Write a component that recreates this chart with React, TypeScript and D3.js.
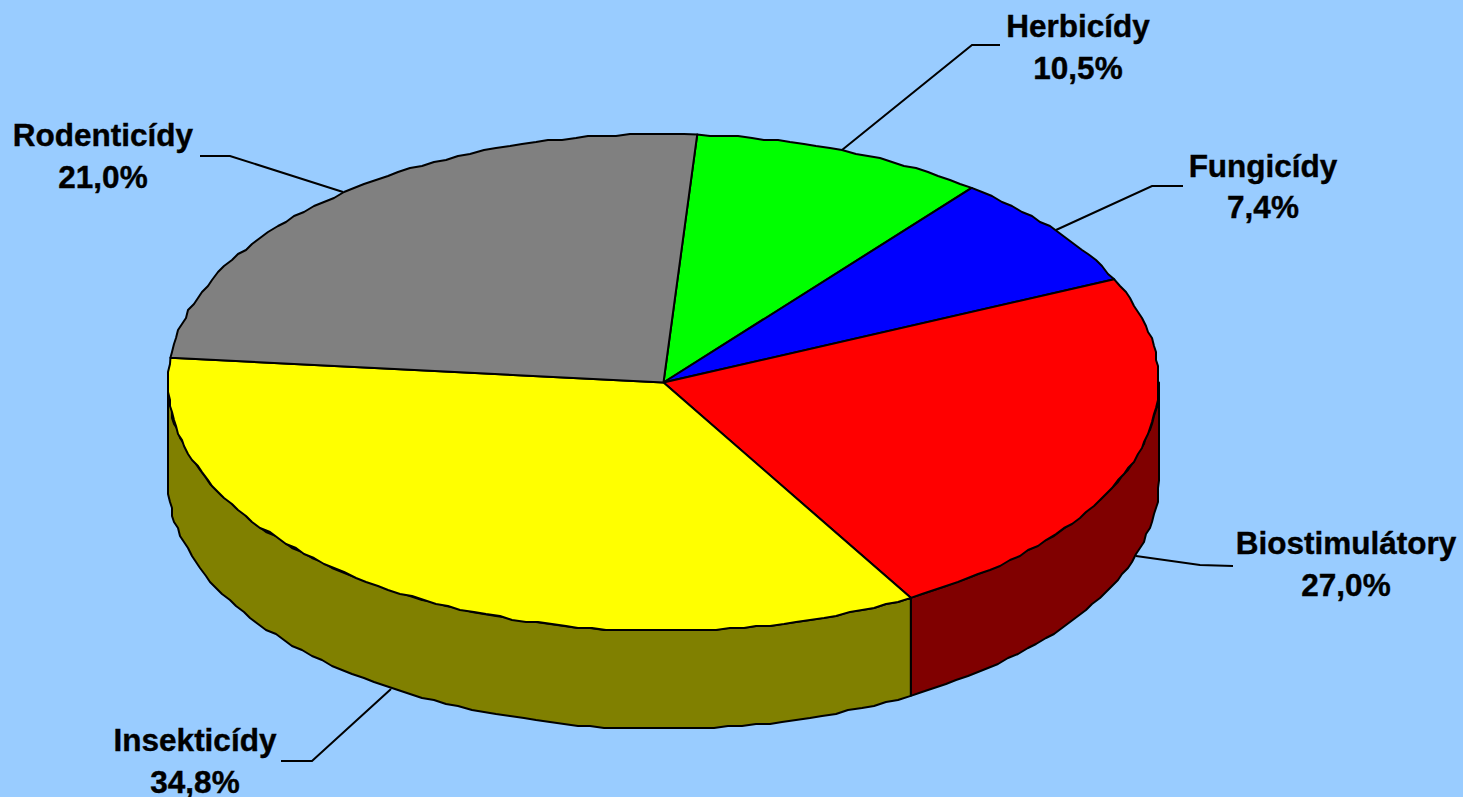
import React from "react";
import * as d3 from "d3";

const categories = ["Herbicídy", "Fungicídy", "Biostimulátory", "Insekticídy", "Rodenticídy"];
const valueLabels = ["10,5%", "7,4%", "27,0%", "34,8%", "21,0%"];
// Share of the circle each slice occupies in the picture (read from the boundaries)
const drawnShares = [9.6, 7.5, 23.5, 34.9, 24.5];
const topColors = ["#00FF00", "#0000FF", "#FF0000", "#FFFF00", "#808080"];
const sideColors = ["#008000", "#000080", "#800000", "#808000", "#404040"];

const W = 1463;
const H = 797;
const CX = 663.5;
const CY = 382.5;
const RX = 495.5;
const RY = 248.5;
const DEPTH = 98;
const START = (3.9 * Math.PI) / 180;
const STEP = (1.6 * Math.PI) / 180;
const SNAP = 2;

const labelLayout = [
  { x: 1078, y: 37, y2: 79, leader: [[1000, 45], [972, 45], [842, 150]] },
  { x: 1263, y: 177, y2: 218, leader: [[1183, 186], [1152, 186], [1056, 230]] },
  { x: 1346, y: 554, y2: 596, leader: [[1233, 566], [1200, 565], [1136, 556]] },
  { x: 195, y: 751, y2: 793, leader: [[281, 761], [312, 761], [391, 689]] },
  { x: 103, y: 146, y2: 188, leader: [[200, 156], [230, 156], [343, 192]] },
];

const xScale = d3.scaleLinear().domain([-1, 1]).range([CX - RX, CX + RX]);
const yScale = d3.scaleLinear().domain([-1, 1]).range([CY - RY, CY + RY]);

const snap = (v: number) => Math.round(v / SNAP) * SNAP;

// angle is clockwise from 12 o'clock; interior samples snap to a coarse grid like the source's jagged outline
const pt = (a: number, dy = 0, snapped = true): [number, number] => {
  const x = xScale(Math.sin(a));
  const y = yScale(-Math.cos(a)) + dy;
  return snapped ? [snap(x), snap(y)] : [x, y];
};

const sampleArc = (a0: number, a1: number, dy = 0): [number, number][] => {
  const n = Math.max(1, Math.ceil((a1 - a0) / STEP));
  return d3.range(n + 1).map((i) => pt(a0 + ((a1 - a0) * i) / n, dy, i > 0 && i < n));
};

const line = d3.line<[number, number]>();
const strokeProps = { stroke: "#000", strokeWidth: 2, strokeLinejoin: "round" as const };
const textProps = {
  textAnchor: "middle" as const,
  fontFamily: "'Liberation Sans', Arial, sans-serif",
  fontWeight: "bold",
  fontSize: 31.5,
  fill: "#000",
  stroke: "#000",
  strokeWidth: 0.4,
};

export default function App() {
  const arcs = d3
    .pie<number>()
    .sort(null)
    .startAngle(START)
    .endAngle(START + 2 * Math.PI)(drawnShares);

  const front0 = Math.PI / 2;
  const front1 = (3 * Math.PI) / 2;

  const sides = arcs
    .map((d, i) => {
      const a0 = Math.max(d.startAngle, front0);
      const a1 = Math.min(d.endAngle, front1);
      if (a1 <= a0) return null;
      const pts = [...sampleArc(a0, a1, 0), ...sampleArc(a0, a1, DEPTH).reverse()];
      return { i, path: line(pts) + "Z" };
    })
    .filter(Boolean) as { i: number; path: string }[];

  return (
    <svg
      width={W}
      height={H}
      viewBox={`0 0 ${W} ${H}`}
      style={{ position: "absolute", left: 0, top: 0, display: "block" }}
    >
      <rect x={0} y={0} width={W} height={H} fill="#99CCFF" />
      {sides.map((s) => (
        <path key={s.i} d={s.path} fill={sideColors[s.i]} {...strokeProps} />
      ))}
      {arcs.map((d, i) => (
        <path
          key={categories[i]}
          d={line([[CX, CY], ...sampleArc(d.startAngle, d.endAngle)]) + "Z"}
          fill={topColors[i]}
          {...strokeProps}
        />
      ))}
      {categories.map((c, i) => (
        <g key={c}>
          <path
            d={line(labelLayout[i].leader as [number, number][]) ?? ""}
            fill="none"
            stroke="#000"
            strokeWidth={2}
          />
          <text x={labelLayout[i].x} y={labelLayout[i].y} {...textProps}>
            {c}
          </text>
          <text x={labelLayout[i].x} y={labelLayout[i].y2} {...textProps}>
            {valueLabels[i]}
          </text>
        </g>
      ))}
    </svg>
  );
}
